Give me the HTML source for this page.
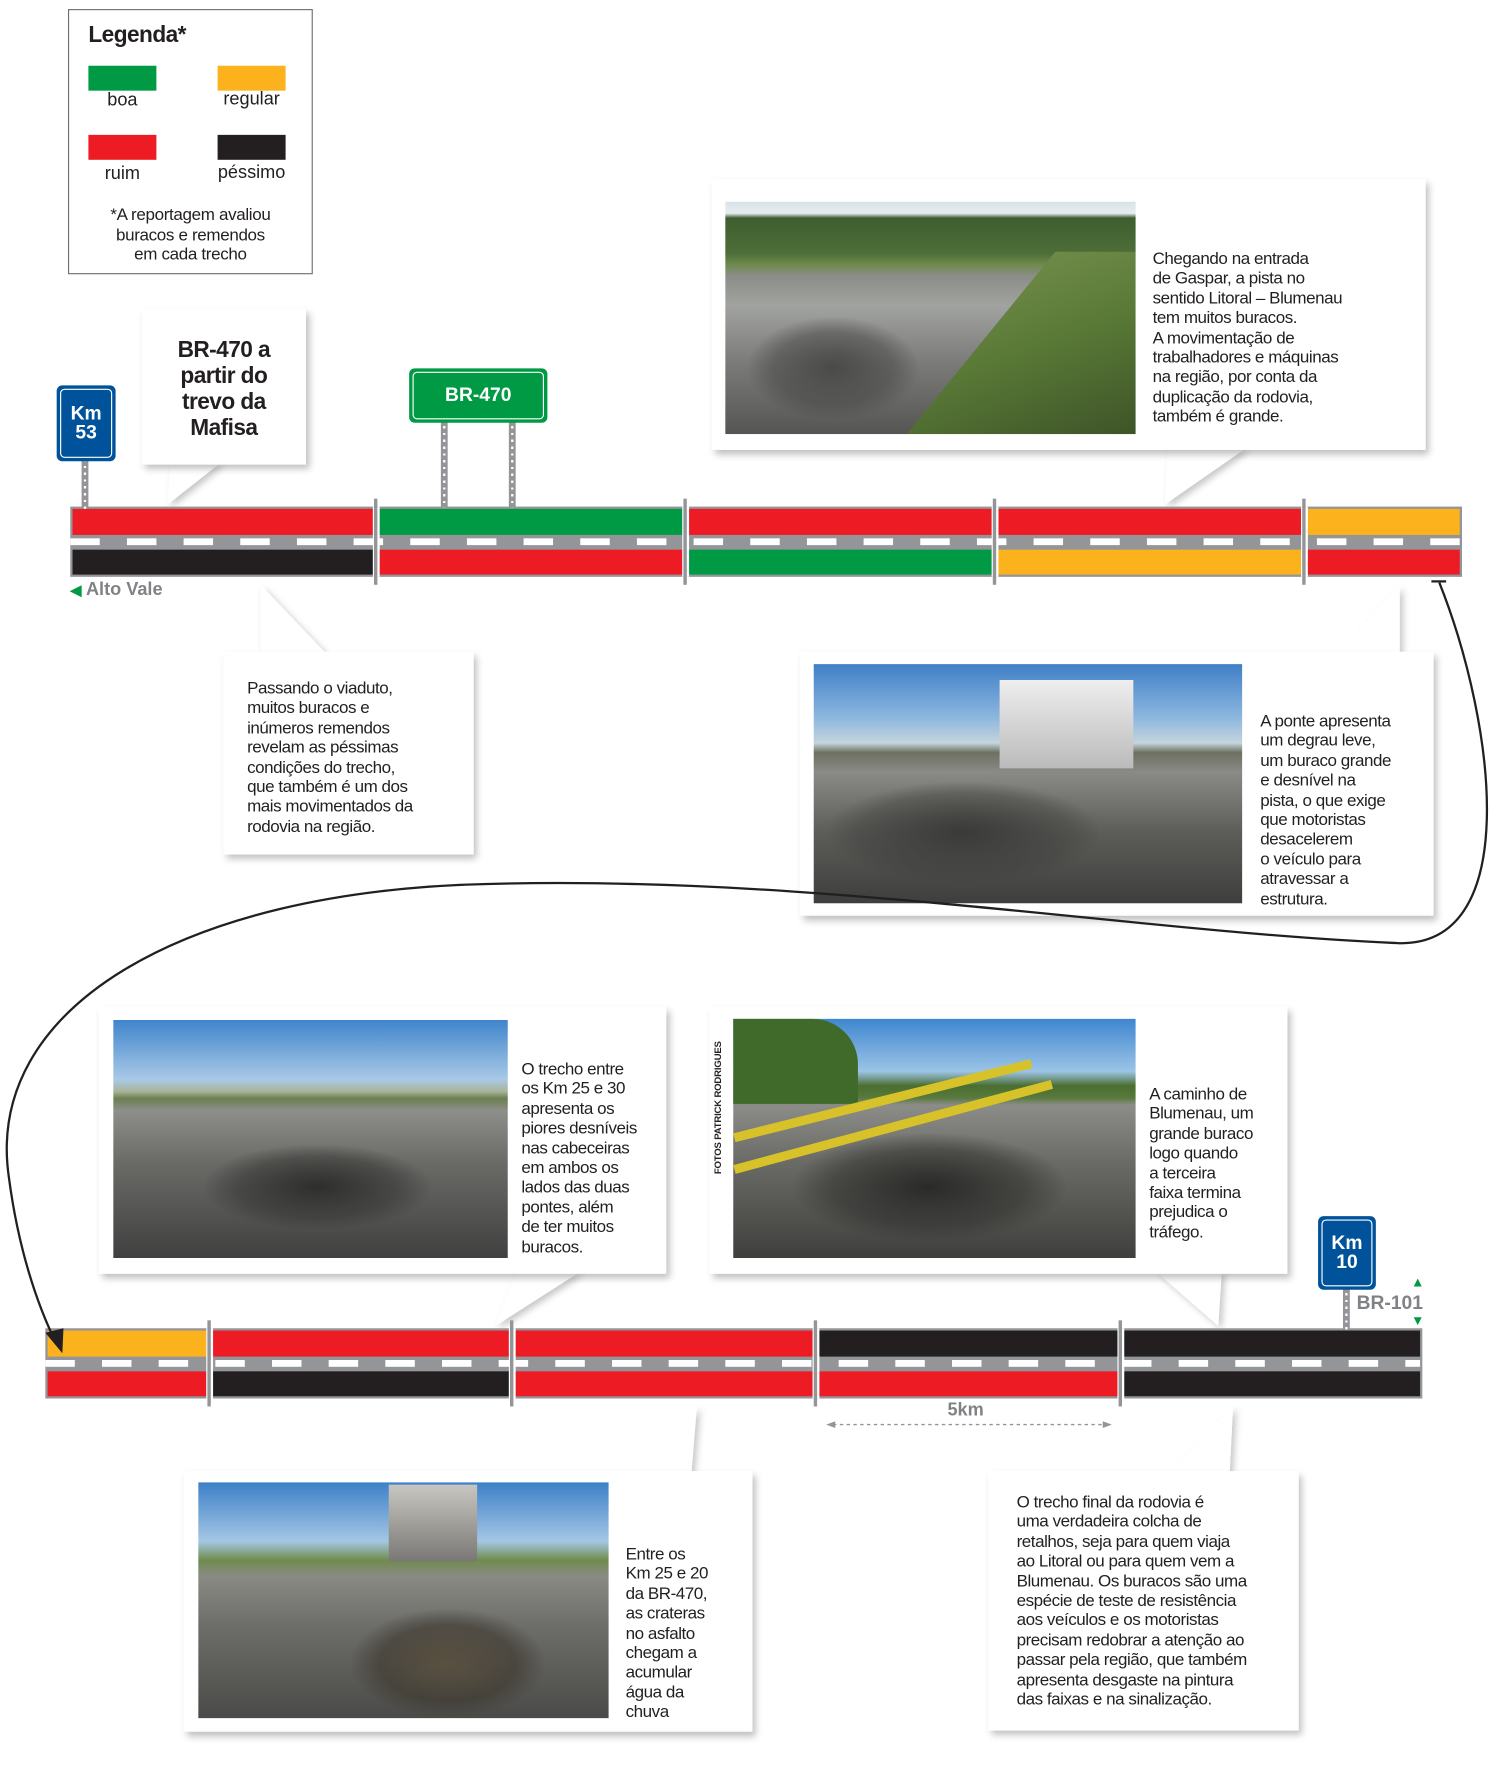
<!DOCTYPE html>
<html><head><meta charset="utf-8">
<style>
html,body{margin:0;padding:0;background:#fff;}
body{width:1496px;height:1779px;overflow:hidden;position:relative;}
#w{position:absolute;left:0;top:0;width:1320px;height:1570px;transform:scale(1.13333);transform-origin:0 0;font-family:"Liberation Sans",Arial,sans-serif;color:#231f20;}
.a{position:absolute;}
.box{position:absolute;background:#fff;box-shadow:3px 4px 6px rgba(0,0,0,0.25);}
.t{position:absolute;font-size:15px;line-height:17.4px;letter-spacing:-0.4px;color:#231f20;}
.ph{position:absolute;overflow:hidden;}
.seg{position:absolute;background:#939598;height:62px;}
.sign{position:absolute;background:#00539b;border-radius:5px;color:#fff;font-weight:bold;text-align:center;}
.sign i{position:absolute;left:3px;top:3px;right:3px;bottom:3px;border:1.5px solid #fff;border-radius:4px;}
.post{position:absolute;width:6px;background:#939598;}
.post:after{content:"";position:absolute;left:2px;top:0;bottom:0;width:2px;background:repeating-linear-gradient(#fff 0 2px,transparent 2px 6px);}
</style></head><body><div id="w">

<!-- Legend -->
<div class="a" style="left:60px;top:8px;width:214px;height:232px;border:1px solid #6d6e71;"></div>
<div class="a" style="left:78px;top:20px;font-size:20px;font-weight:bold;letter-spacing:-0.5px;">Legenda*</div>
<div class="a" style="left:78px;top:58px;width:60px;height:22px;background:#009a44"></div>
<div class="a" style="left:192px;top:58px;width:60px;height:22px;background:#fbb21d"></div>
<div class="a" style="left:78px;top:119px;width:60px;height:22px;background:#ed1c24"></div>
<div class="a" style="left:192px;top:119px;width:60px;height:22px;background:#231f20"></div>
<div class="a" style="left:78px;top:80px;width:60px;text-align:center;font-size:16px;">boa</div>
<div class="a" style="left:182px;top:79px;width:80px;text-align:center;font-size:16px;">regular</div>
<div class="a" style="left:78px;top:145px;width:60px;text-align:center;font-size:16px;">ruim</div>
<div class="a" style="left:182px;top:144px;width:80px;text-align:center;font-size:16px;">péssimo</div>
<div class="a" style="left:60px;top:181px;width:216px;text-align:center;font-size:15px;line-height:17.5px;letter-spacing:-0.3px;">*A reportagem avaliou<br>buracos e remendos<br>em cada trecho</div>

<!-- callout pointers (svg) -->
<svg class="a" style="left:0;top:0" width="1320" height="1570">
<defs><filter id="sh" x="-10%" y="-10%" width="130%" height="130%"><feDropShadow dx="3" dy="3" stdDeviation="3" flood-opacity="0.22"/></filter></defs>
<g fill="#fff" filter="url(#sh)">
<polygon points="150,408 148,445 195,408"/>
<polygon points="1030,395 1028,445 1100,395"/>
<polygon points="230,577 230,516 288,577"/>
<polygon points="1180,577 1235,516 1235,577"/>
<polygon points="455,1122 437,1170 512,1122"/>
<polygon points="1020,1122 1075,1170 1078,1122"/>
<polygon points="555,1300 615,1240 610,1300"/>
<polygon points="1030,1300 1088,1240 1085,1300"/>
</g>
</svg>

<!-- Boxes -->
<div class="box" style="left:125px;top:272px;width:145px;height:138px;"></div>
<div class="a" style="left:125px;top:298px;width:145px;text-align:center;font-size:20px;line-height:23px;font-weight:bold;letter-spacing:-0.5px;">BR-470 a<br>partir do<br>trevo da<br>Mafisa</div>

<div class="box" style="left:628px;top:158px;width:630px;height:239px;"></div>
<div class="ph" style="left:640px;top:178px;width:362px;height:205px;background:linear-gradient(180deg,#d9e2e8 0%,#e8edf0 5%,#3f5e30 7%,#4d6d38 22%,#6e8a4c 27%,#8b8e88 32%,#a1a3a0 45%,#7a7a78 70%,#555553 100%);"></div>
<div class="a" style="left:800px;top:222px;width:202px;height:161px;background:linear-gradient(160deg,#7c9552,#587836 55%,#3e5428);clip-path:polygon(65% 0,100% 0,100% 100%,0 100%);"></div>
<div class="a" style="left:660px;top:280px;width:150px;height:90px;background:radial-gradient(ellipse,#4a4a48 0%,rgba(70,70,68,0.5) 50%,transparent 72%);"></div>
<div class="t" style="left:1017px;top:220px;">Chegando na entrada<br>de Gaspar, a pista no<br>sentido Litoral – Blumenau<br>tem muitos buracos.<br>A movimentação de<br>trabalhadores e máquinas<br>na região, por conta da<br>duplicação da rodovia,<br>também é grande.</div>

<div class="box" style="left:197px;top:575px;width:221px;height:179px;"></div>
<div class="t" style="left:218px;top:599px;">Passando o viaduto,<br>muitos buracos e<br>inúmeros remendos<br>revelam as péssimas<br>condições do trecho,<br>que também é um dos<br>mais movimentados da<br>rodovia na região.</div>

<div class="box" style="left:706px;top:575px;width:559px;height:233px;"></div>
<div class="ph" style="left:718px;top:586px;width:378px;height:211px;background:linear-gradient(180deg,#3f7fc6 0%,#8bb6de 22%,#c4d4dc 33%,#6c7060 37%,#8a8a86 45%,#5d5d5a 70%,#3e3e3c 100%);"></div>
<div class="a" style="left:882px;top:600px;width:118px;height:78px;background:linear-gradient(180deg,#eeeeee,#bbbbbb);"></div>
<div class="a" style="left:730px;top:690px;width:240px;height:90px;background:radial-gradient(ellipse,#3a3a38 0%,rgba(60,60,58,0.4) 55%,transparent 72%);"></div>
<div class="t" style="left:1112px;top:628px;">A ponte apresenta<br>um degrau leve,<br>um buraco grande<br>e desnível na<br>pista, o que exige<br>que motoristas<br>desacelerem<br>o veículo para<br>atravessar a<br>estrutura.</div>

<div class="box" style="left:87px;top:888px;width:501px;height:236px;"></div>
<div class="ph" style="left:100px;top:900px;width:348px;height:210px;background:linear-gradient(180deg,#3f85cc 0%,#a9c9e6 25%,#a8b49a 30%,#6c7e50 33%,#8d8f8a 38%,#6a6a67 60%,#404040 100%);"></div>
<div class="a" style="left:180px;top:1010px;width:200px;height:75px;background:radial-gradient(ellipse,#2e2e2c 0%,rgba(50,50,48,0.5) 50%,transparent 72%);"></div>
<div class="t" style="left:460px;top:935px;">O trecho entre<br>os Km 25 e 30<br>apresenta os<br>piores desníveis<br>nas cabeceiras<br>em ambos os<br>lados das duas<br>pontes, além<br>de ter muitos<br>buracos.</div>

<div class="box" style="left:626px;top:888px;width:510px;height:236px;"></div>
<div class="a" style="left:628px;top:1036px;font-size:8.5px;font-weight:bold;transform:rotate(-90deg);transform-origin:0 0;white-space:nowrap;letter-spacing:-0.2px;">FOTOS PATRICK RODRIGUES</div>
<div class="ph" style="left:647px;top:899px;width:355px;height:211px;background:linear-gradient(180deg,#3e86d0 0%,#9cc4e6 22%,#4a6e30 28%,#587a3c 33%,#8c8c88 36%,#6a6a66 60%,#3f3f3d 100%);"></div>
<div class="a" style="left:647px;top:899px;width:110px;height:75px;background:#3f6a2a;border-radius:0 40px 0 0;"></div>
<div class="a" style="left:647px;top:1000px;width:270px;height:8px;background:#d8c22a;transform:rotate(-14deg);transform-origin:0 0;"></div>
<div class="a" style="left:647px;top:1028px;width:290px;height:8px;background:#d8c22a;transform:rotate(-15deg);transform-origin:0 0;"></div>
<div class="a" style="left:700px;top:1000px;width:240px;height:95px;background:radial-gradient(ellipse,#2a2a28 0%,rgba(45,45,43,0.5) 50%,transparent 72%);"></div>
<div class="t" style="left:1014px;top:957px;">A caminho de<br>Blumenau, um<br>grande buraco<br>logo quando<br>a terceira<br>faixa termina<br>prejudica o<br>tráfego.</div>

<div class="box" style="left:162px;top:1298px;width:502px;height:230px;"></div>
<div class="ph" style="left:175px;top:1308px;width:362px;height:208px;background:linear-gradient(180deg,#3d80c8 0%,#a5c6e4 25%,#6f8c4c 33%,#8a8a85 40%,#6e6e6a 60%,#4a4a48 100%);"></div>
<div class="a" style="left:343px;top:1310px;width:78px;height:68px;background:linear-gradient(180deg,#c8c6c0,#7a7874);"></div>
<div class="a" style="left:310px;top:1420px;width:170px;height:95px;background:radial-gradient(ellipse,#5a5040 0%,rgba(60,55,45,0.6) 50%,transparent 72%);"></div>
<div class="t" style="left:552px;top:1363px;">Entre os<br>Km 25 e 20<br>da BR-470,<br>as crateras<br>no asfalto<br>chegam a<br>acumular<br>água da<br>chuva</div>

<div class="box" style="left:872px;top:1298px;width:274px;height:229px;"></div>
<div class="t" style="left:897px;top:1317px;">O trecho final da rodovia é<br>uma verdadeira colcha de<br>retalhos, seja para quem viaja<br>ao Litoral ou para quem vem a<br>Blumenau. Os buracos são uma<br>espécie de teste de resistência<br>aos veículos e os motoristas<br>precisam redobrar a atenção ao<br>passar pela região, que também<br>apresenta desgaste na pintura<br>das faixas e na sinalização.</div>

<!-- roads -->
<div id="roads"></div>

<!-- signs -->
<div class="post" style="left:72px;top:405px;height:44px;"></div>
<div class="sign" style="left:50px;top:340px;width:52px;height:67px;font-size:17px;line-height:17px;"><i></i><div style="padding-top:16px;">Km<br>53</div></div>

<div class="post" style="left:389px;top:370px;height:78px;"></div>
<div class="post" style="left:449px;top:370px;height:78px;"></div>
<div class="sign" style="left:361px;top:325px;width:122px;height:48px;background:#009a44;font-size:17px;line-height:48px;"><i></i>BR-470</div>

<div class="post" style="left:1185px;top:1135px;height:38px;"></div>
<div class="sign" style="left:1163px;top:1073px;width:51px;height:65px;font-size:17px;line-height:17px;"><i></i><div style="padding-top:15px;">Km<br>10</div></div>
<div class="a" style="left:1197px;top:1140px;font-size:17px;font-weight:bold;color:#808285;">BR-101</div>
<div class="a" style="left:1245px;top:1124px;color:#009a44;font-size:12px;font-weight:bold;">&#9650;</div>
<div class="a" style="left:1245px;top:1158px;color:#009a44;font-size:12px;font-weight:bold;">&#9660;</div>

<div class="a" style="left:62px;top:512px;font-size:16px;font-weight:bold;color:#808285;"><span style="color:#009a44;font-size:13px;">&#9664;</span> Alto Vale</div>

<div class="a" style="left:836px;top:1236px;font-size:16px;font-weight:bold;color:#808285;">5km</div>
<svg class="a" style="left:0;top:0" width="1320" height="1570">
<line x1="735" y1="1257" x2="975" y2="1257" stroke="#939598" stroke-width="1.2" stroke-dasharray="3,3"/>
<polygon points="729,1257 737,1254 737,1260" fill="#939598"/>
<polygon points="981,1257 973,1254 973,1260" fill="#939598"/>
<path d="M1270,514 C1320,640 1345,840 1230,832 C1000,822 720,772 430,780 C160,786 -15,890 8,1040 C16,1100 32,1150 50,1186" fill="none" stroke="#231f20" stroke-width="2"/>
<line x1="1263" y1="513" x2="1276" y2="513" stroke="#231f20" stroke-width="2"/>
<polygon points="55,1194 40,1176 56,1172" fill="#231f20"/>
</svg>

</div>
<script>
var C={r:"#ed1c24",g:"#009a44",y:"#fbb21d",k:"#231f20"};
function road(y,segs,x0,x1,divs){
 var h="";
 segs.forEach(function(s){
  var L=s[0],R=s[1];
  h+='<div class="seg" style="left:'+L+'px;top:'+y+'px;width:'+(R-L)+'px;">'+
  '<div class="a" style="left:2px;right:2px;top:2px;height:23px;background:'+C[s[2]]+'"></div>'+
  '<div class="a" style="left:2px;right:2px;top:38px;height:22px;background:'+C[s[3]]+'"></div></div>';
 });
 for(var x=x0;x<x1-10;x+=50){
  var w=Math.min(26,x1-x-2);
  h+='<div class="a" style="left:'+x+'px;top:'+(y+28)+'px;width:'+w+'px;height:6px;background:#fff"></div>';
 }
 divs.forEach(function(d){
  h+='<div class="a" style="left:'+(d-3)+'px;top:'+y+'px;width:6px;height:62px;background:#fff"></div>';
  h+='<div class="a" style="left:'+(d-1.5)+'px;top:'+(y-7)+'px;width:3px;height:76px;background:#939598"></div>';
 });
 return h;
}
var h=road(447,[[62,331,"r","k"],[332,604,"g","r"],[605,877,"r","g"],[878,1150,"r","y"],[1151,1290,"y","r"]],62,1290,[331.5,604.5,877.5,1150.5]);
h+=road(1172,[[40,184,"y","r"],[185,451,"r","k"],[452,719,"r","r"],[720,988,"k","r"],[989,1255,"k","k"]],40,1255,[184.5,451.5,719.5,988.5]);
document.getElementById("roads").innerHTML=h;
</script>
</body></html>
